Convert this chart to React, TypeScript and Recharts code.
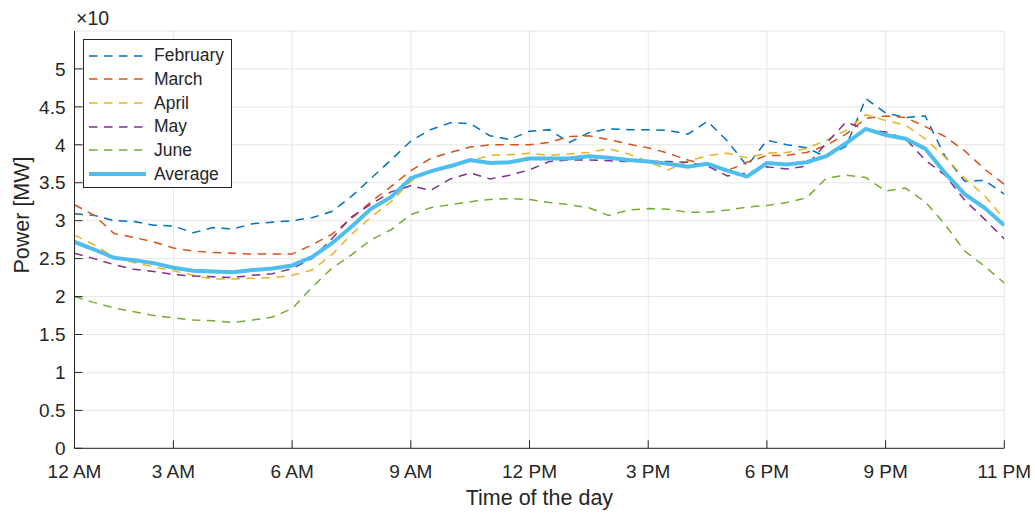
import React from "react";
import { LineChart, Line, XAxis, YAxis, CartesianGrid, Legend } from "recharts";

const FONT = "'Liberation Sans', Arial, Helvetica, sans-serif";
const INK = "#262626";

// half-hour sample index, 48 samples over the day
const slots = Array.from({ length: 48 }, (_, i) => i);

const february = [
  3.09, 3.07, 3.0, 2.99, 2.94, 2.93, 2.84, 2.91, 2.89, 2.96, 2.98, 3.0,
  3.04, 3.12, 3.32, 3.56, 3.8, 4.05, 4.2, 4.29, 4.28, 4.12, 4.07, 4.18,
  4.2, 4.03, 4.16, 4.21, 4.2, 4.2, 4.19, 4.14, 4.31, 4.05, 3.72, 4.06,
  4.0, 3.96, 3.84, 3.98, 4.61, 4.42, 4.36, 4.38, 3.85, 3.52, 3.53, 3.35,
];
const march = [
  3.21, 3.07, 2.83, 2.78, 2.72, 2.64, 2.6, 2.58, 2.57, 2.56, 2.56, 2.56,
  2.68, 2.82, 3.03, 3.25, 3.45, 3.66, 3.82, 3.9, 3.97, 4.0, 4.0, 4.0,
  4.03, 4.11, 4.12, 4.07, 4.01, 3.96, 3.89, 3.8, 3.73, 3.66, 3.77, 3.86,
  3.86, 3.9, 3.99, 4.14, 4.35, 4.38, 4.36, 4.24, 4.11, 3.92, 3.68, 3.48,
];
const april = [
  2.81, 2.68, 2.52, 2.45, 2.39, 2.34, 2.28, 2.23, 2.23, 2.24, 2.25, 2.28,
  2.35, 2.55, 2.82, 3.05, 3.25, 3.52, 3.65, 3.7, 3.79, 3.86, 3.87, 3.89,
  3.86, 3.88, 3.9, 3.95, 3.88, 3.78, 3.67, 3.78, 3.86, 3.89, 3.83, 3.89,
  3.9, 3.95, 4.06, 4.19, 4.4, 4.32, 4.26, 4.08, 3.84, 3.56, 3.33, 3.02,
];
const may = [
  2.57, 2.5, 2.42, 2.36, 2.33, 2.29, 2.27, 2.26, 2.25, 2.28, 2.3, 2.37,
  2.5, 2.76, 3.05, 3.22, 3.38, 3.46, 3.4, 3.55, 3.63, 3.55, 3.6, 3.67,
  3.78, 3.8, 3.8, 3.79, 3.78, 3.78, 3.78, 3.77, 3.72, 3.59, 3.63, 3.71,
  3.68, 3.72, 4.02, 4.3, 4.2, 4.17, 4.08, 3.8, 3.6, 3.27, 3.02, 2.76,
];
const june = [
  2.0, 1.92, 1.85, 1.8, 1.75, 1.72, 1.69, 1.68, 1.66, 1.69, 1.73, 1.84,
  2.12, 2.37, 2.55, 2.75, 2.88, 3.08, 3.17, 3.21, 3.25, 3.28, 3.29, 3.28,
  3.24, 3.21, 3.17, 3.07, 3.14, 3.16, 3.15, 3.11, 3.11, 3.14, 3.18, 3.2,
  3.24, 3.3, 3.56, 3.6, 3.57, 3.39, 3.43, 3.25, 2.95, 2.6, 2.4, 2.18,
];
const average = [
  2.72, 2.62, 2.51, 2.48, 2.44, 2.38, 2.34, 2.33, 2.32, 2.35, 2.37, 2.41,
  2.52, 2.7, 2.92, 3.16, 3.31, 3.56, 3.65, 3.72, 3.8, 3.76, 3.77, 3.82,
  3.82, 3.82, 3.85, 3.83, 3.8, 3.78, 3.75, 3.71, 3.75, 3.66, 3.58, 3.76,
  3.74, 3.77, 3.85, 4.02, 4.21, 4.13, 4.08, 3.95, 3.63, 3.35, 3.17, 2.94,
];

const tickSlots = [0, 5, 11, 17, 23, 29, 35, 41, 47];
const tickLabels = ["12 AM", "3 AM", "6 AM", "9 AM", "12 PM", "3 PM", "6 PM", "9 PM", "11 PM"];
const powerTicks = [0, 0.5, 1, 1.5, 2, 2.5, 3, 3.5, 4, 4.5, 5];

const series = [
  { key: "february", name: "February", color: "#0072BD", dash: "8.5 6.5", width: 1.5 },
  { key: "march", name: "March", color: "#D95319", dash: "8.5 6.5", width: 1.5 },
  { key: "april", name: "April", color: "#EDB120", dash: "8.5 6.5", width: 1.5 },
  { key: "may", name: "May", color: "#7E2F8E", dash: "8.5 6.5", width: 1.5 },
  { key: "june", name: "June", color: "#77AC30", dash: "8.5 6.5", width: 1.5 },
  { key: "average", name: "Average", color: "#4DBEEE", dash: undefined, width: 4 },
];

const data = slots.map((slot, i) => ({
  slot,
  february: february[i],
  march: march[i],
  april: april[i],
  may: may[i],
  june: june[i],
  average: average[i],
}));

const BoxLegend = () => (
  <div
    style={{
      width: 149,
      height: 148.4,
      boxSizing: "border-box",
      border: `1px solid ${INK}`,
      background: "#fff",
      paddingTop: 3.5,
      fontFamily: FONT,
      fontSize: 17.5,
      color: INK,
    }}
  >
    {series.map((s) => (
      <div key={s.key} style={{ height: 23.7, display: "flex", alignItems: "center" }}>
        <svg width={57} height={6} style={{ marginLeft: 4.7, flex: "none" }}>
          <line x1={0} x2={57} y1={3} y2={3} stroke={s.color} strokeWidth={s.width} strokeDasharray={s.dash} />
        </svg>
        <span style={{ marginLeft: 8, whiteSpace: "nowrap" }}>{s.name}</span>
      </div>
    ))}
  </div>
);

const tickStyle = { fill: INK, fontSize: 19, fontFamily: FONT };

export default function App() {
  return (
    <div style={{ padding: "8px 0 0 8px" }}>
      <style>{"body { margin: 0; }"}</style>
      <div style={{ position: "relative", width: 1027, height: 505 }}>
        <LineChart
          width={1027}
          height={505}
          data={data}
          margin={{ top: 23, right: 30.7, bottom: 24.7, left: 0 }}
          style={{ fontFamily: FONT }}
        >
          <CartesianGrid stroke="#e6e6e6" strokeWidth={1} />
          <XAxis
            dataKey="slot"
            type="number"
            domain={[0, 47]}
            ticks={tickSlots}
            tickFormatter={(v: number) => tickLabels[tickSlots.indexOf(v)]}
            interval={0}
            height={40}
            tickSize={-8}
            tickMargin={24.5}
            tick={tickStyle}
            stroke={INK}
            allowDataOverflow
          />
          <XAxis
            xAxisId="top"
            orientation="top"
            dataKey="slot"
            type="number"
            domain={[0, 47]}
            ticks={tickSlots}
            interval={0}
            height={0}
            tickSize={-8}
            tick={false}
            stroke={INK}
            allowDataOverflow
          />
          <YAxis
            type="number"
            domain={[0, 5.5]}
            ticks={powerTicks}
            interval={0}
            width={66.5}
            tickSize={-8}
            tickMargin={17}
            tick={tickStyle}
            stroke={INK}
            allowDataOverflow
          />
          <YAxis
            yAxisId="right"
            orientation="right"
            type="number"
            domain={[0, 5.5]}
            ticks={powerTicks}
            interval={0}
            width={0}
            tickSize={-8}
            tick={false}
            stroke={INK}
            allowDataOverflow
          />
          <Legend
            layout="vertical"
            align="center"
            verticalAlign="middle"
            content={<BoxLegend />}
            wrapperStyle={{ left: 75.3, top: 31.3, width: 149, height: 148.4 }}
          />
          {series.map((s) => (
            <Line
              key={s.key}
              dataKey={s.key}
              name={s.name}
              type="linear"
              stroke={s.color}
              strokeWidth={s.width}
              strokeDasharray={s.dash}
              dot={false}
              activeDot={false}
              isAnimationActive={false}
            />
          ))}
        </LineChart>
        <svg
          width={1027}
          height={505}
          style={{ position: "absolute", left: 0, top: 0, pointerEvents: "none" }}
        >
          <text x={68} y={17} fill={INK} fontSize={19.5} fontFamily={FONT}>
            ×10
          </text>
          <text
            x={21}
            y={207}
            transform="rotate(-90, 21, 207)"
            textAnchor="middle"
            fill={INK}
            fontSize={21.5}
            fontFamily={FONT}
          >
            Power [MW]
          </text>
          <text x={531.4} y={497} textAnchor="middle" fill={INK} fontSize={21.5} fontFamily={FONT}>
            Time of the day
          </text>
        </svg>
      </div>
    </div>
  );
}
